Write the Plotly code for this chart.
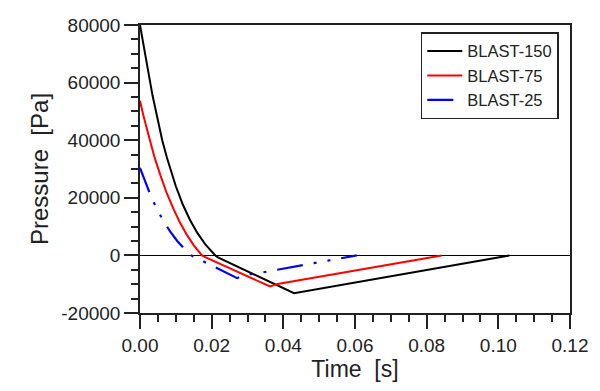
import plotly.graph_objects as go

# BLAST-150 (black)
t150 = [0, 0.001, 0.002, 0.0035, 0.005, 0.0062, 0.0075, 0.0087, 0.010, 0.012, 0.014, 0.016, 0.0183, 0.021, 0.0219, 0.043, 0.1031]
p150 = [80000, 72500, 66000, 55500, 46500, 40000, 34000, 29500, 24000, 17500, 12200, 7800, 3700, 0, -800, -13100, 0]

# BLAST-75 (red)
t75 = [0, 0.001, 0.0026, 0.004, 0.0057, 0.0075, 0.0094, 0.011, 0.013, 0.015, 0.0173, 0.0185, 0.0363, 0.0384, 0.0842]
p75 = [53700, 48300, 40800, 34300, 27800, 21500, 16000, 11800, 7300, 3500, 0, -800, -10800, -9900, 0]

# BLAST-25 (blue)
t25 = [0, 0.0015, 0.003, 0.0046, 0.0065, 0.0085, 0.0105, 0.0125, 0.0143, 0.0271, 0.0292, 0.0327, 0.0605]
p25 = [30400, 25300, 20700, 16400, 12000, 8150, 4850, 2100, 0, -7900, -6750, -6250, 0]

names = ["BLAST-150", "BLAST-75", "BLAST-25"]
colors = ["#000000", "#ff0000", "#0000ff"]

x_ticks = [0.00, 0.02, 0.04, 0.06, 0.08, 0.10, 0.12]
x_labels = ["0.00", "0.02", "0.04", "0.06", "0.08", "0.10", "0.12"]
y_ticks = [-20000, 0, 20000, 40000, 60000, 80000]
y_labels = ["-20000", "0", "20000", "40000", "60000", "80000"]

FONT = "Liberation Sans, Arial, sans-serif"

fig = go.Figure()
fig.add_trace(go.Scatter(x=t150, y=p150, mode="lines", name=names[0],
                         line=dict(color=colors[0], width=2)))
fig.add_trace(go.Scatter(x=t75, y=p75, mode="lines", name=names[1],
                         line=dict(color=colors[1], width=2)))
fig.add_trace(go.Scatter(x=t25, y=p25, mode="lines", name=names[2],
                         line=dict(color=colors[2], width=2.2,
                                   dash="26px,11px,3px,11px,3px,11px")))

axis_common = dict(
    showline=True, linecolor="#222", linewidth=1.5, mirror=True,
    ticks="outside", ticklen=14, tickwidth=1.5, tickcolor="#222",
    showgrid=False, automargin=False,
    tickfont=dict(family=FONT, size=19, color="#222"),
)

fig.update_xaxes(
    range=[0, 0.12], tickvals=x_ticks, ticktext=x_labels,
    zeroline=False,
    minor=dict(dtick=0.005, ticks="outside", ticklen=7, tickwidth=1.5, tickcolor="#222", showgrid=False),
    title=dict(text="Time  [s]", font=dict(family=FONT, size=23, color="#222"), standoff=4),
    **axis_common,
)
fig.update_yaxes(
    range=[-20000, 80000], tickvals=y_ticks, ticktext=y_labels,
    zeroline=True, zerolinecolor="#000", zerolinewidth=1,
    minor=dict(dtick=5000, ticks="outside", ticklen=7, tickwidth=1.5, tickcolor="#222", showgrid=False),
    title=dict(text="Pressure  [Pa]", font=dict(family=FONT, size=24, color="#222"), standoff=6),
    **axis_common,
)

# page body has an 8px margin, so the figure is drawn 8px in and 8px down
fig.update_layout(
    width=592, height=383,
    margin=dict(l=131.5, r=30, t=17, b=78),
    paper_bgcolor="white", plot_bgcolor="white",
    showlegend=True,
    legend=dict(
        x=0.653, y=0.975, xanchor="left", yanchor="top",
        bgcolor="white", bordercolor="#222", borderwidth=1.5,
        font=dict(family=FONT, size=16.5, color="#222"),
        tracegroupgap=0, itemwidth=35,
    ),
)

fig.write_html("out.html")
